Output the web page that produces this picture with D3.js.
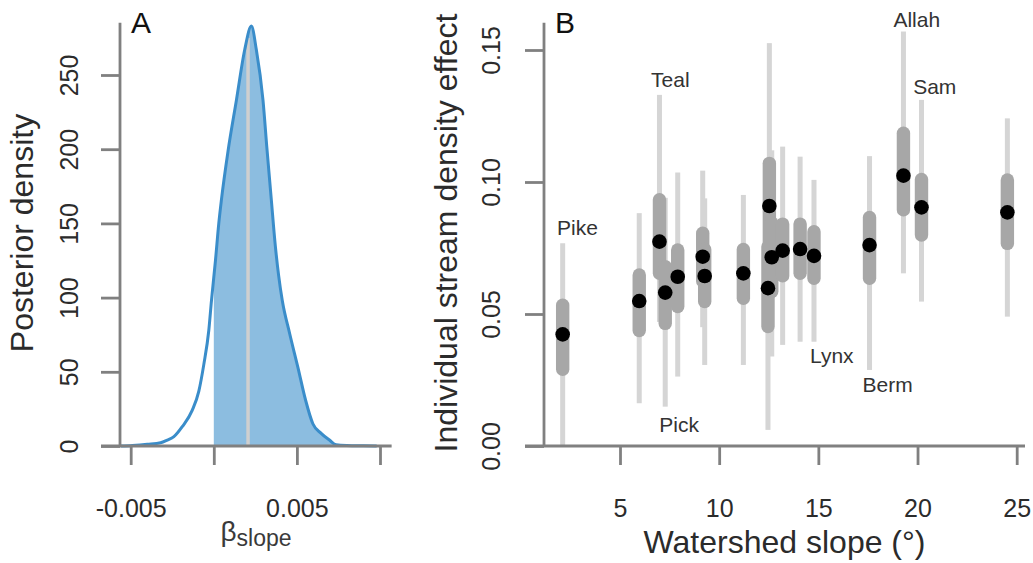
<!DOCTYPE html>
<html><head><meta charset="utf-8">
<script src="https://cdn.jsdelivr.net/npm/d3@7"></script>
<style>
body{margin:0;background:#fff}
svg{display:block}
text{font-family:"Liberation Sans",Arial,Helvetica,sans-serif}
</style>
</head><body>
<svg id="c" width="1033" height="563"></svg>
<script>
// ---------- Panel A: posterior density of beta_slope ----------
const betaSlope = [-0.0056,-0.0049,-0.0040,-0.0032,-0.0028,-0.0024,-0.0019,-0.0013,-0.0009,-0.0006,-0.0003,-0.00014,0.0001,0.0003,0.00046,0.00086,0.00136,0.00186,0.00226,0.00256,0.00296,0.0032,0.00346,0.0037,0.0039,0.00412,0.00456,0.00506,0.00552,0.00596,0.00646,0.00696,0.00736,0.0080,0.0090,0.0098];
const posteriorDensity = [0,0.4,1.2,2.2,4,6.3,13,24,37,55,78,98,125,150,166,199,233,267,283,267,233,200,166,135,115,98,76,53,31,15,8.5,4,0.8,0.3,0.1,0];
const betaMedian = 0.00206;
const betaTicks = [-0.005, 0, 0.005, 0.010];
const betaTickLabels = ["-0.005", "", "0.005", ""];
const densityTicks = [0, 50, 100, 150, 200, 250];

// ---------- Panel B: individual stream effects ----------
const streamNames  = ["Pike","","Teal","Pick","","","","","","","","","","Lynx","Berm","Allah","Sam",""];
const streamSlope  = [2.11, 5.97, 6.99, 7.28, 7.91, 9.17, 9.27, 11.22, 12.46, 12.53, 12.65, 13.20, 14.08, 14.78, 17.58, 19.29, 20.20, 24.53];
const effectMedian = [0.0423,0.0549,0.0774,0.0581,0.0641,0.0717,0.0644,0.0654,0.0598,0.0909,0.0715,0.0740,0.0746,0.0720,0.0761,0.1024,0.0904,0.0885];
const effectLo50   = [0.0265,0.0412,0.0629,0.0439,0.0503,0.0600,0.0522,0.0534,0.0427,0.0720,0.0560,0.0619,0.0629,0.0610,0.0610,0.0869,0.0774,0.0742];
const effectHi50   = [0.0559,0.0673,0.0958,0.0705,0.0768,0.0831,0.0770,0.0770,0.0780,0.1096,0.0870,0.0866,0.0866,0.0837,0.0891,0.1210,0.1035,0.1033];
const effectLo95   = [0.0000,0.0162,0.0470,0.0149,0.0263,0.0450,0.0307,0.0307,0.0061,0.0450,0.0339,0.0383,0.0395,0.0395,0.0288,0.0654,0.0547,0.0490];
const effectHi95   = [0.0768,0.0882,0.1330,0.0940,0.1036,0.1043,0.0938,0.0951,0.1050,0.1526,0.1120,0.1134,0.1096,0.1008,0.1098,0.1570,0.1311,0.1241];
const labelNames  = ["Pike","Teal","Pick","Lynx","Berm","Allah","Sam"];
const labelSlope  = [2.86, 7.54, 7.98, 15.68, 18.49, 19.96, 20.87];
const labelEffect = [0.0799, 0.1358, 0.0053, 0.0314, 0.0205, 0.1587, 0.1333];
const slopeTicks  = [5, 10, 15, 20, 25];
const effectTicks = [0.00, 0.05, 0.10, 0.15];

// ---------- layout ----------
const svg = d3.select("#c");
const AX = "#808080", AXW = 2.8, TICK = 19;
const TXT = "#2b2b2b";
const baseY = 446;

function styleAxis(g){
  g.select(".domain").remove();
  g.selectAll(".tick line").attr("stroke", AX).attr("stroke-width", AXW);
  g.selectAll(".tick text").attr("fill", TXT).attr("font-size", 25);
}

// ===== Panel A =====
const xA = d3.scaleLinear().domain([-0.005, 0.010]).range([130.7, 380]);
const yA = d3.scaleLinear().domain([0, 250]).range([baseY, 75]);
const axA = 120, topA = 22.7;

const gA = svg.append("g");
svg.append("defs").append("clipPath").attr("id","posclip")
  .append("rect").attr("x", xA(0)).attr("y", 0).attr("width", 400).attr("height", baseY);

const dens = betaSlope.map((b,i)=>({b, d: posteriorDensity[i]}));
const area = d3.area().x(p=>xA(p.b)).y0(yA(0)).y1(p=>yA(p.d)).curve(d3.curveMonotoneX);
const line = d3.line().x(p=>xA(p.b)).y(p=>yA(p.d)).curve(d3.curveMonotoneX);

gA.append("path").datum(dens).attr("d", area).attr("fill", "#8cbde0").attr("clip-path","url(#posclip)");
// median line
const medD = d3.scaleLinear().domain(betaSlope).range(posteriorDensity)(betaMedian);
gA.append("line").attr("x1", xA(betaMedian)).attr("x2", xA(betaMedian))
  .attr("y1", yA(0)).attr("y2", yA(medD)).attr("stroke", "#cfcfcf").attr("stroke-width", 3.5);
gA.append("path").datum(dens).attr("d", line).attr("fill","none").attr("stroke","#3a8dca").attr("stroke-width",3)
  .attr("stroke-linejoin","round");

// axes lines
gA.append("line").attr("x1", axA - TICK).attr("x2", xA(0.0107)).attr("y1", baseY).attr("y2", baseY)
  .attr("stroke", AX).attr("stroke-width", AXW);
gA.append("line").attr("x1", axA).attr("x2", axA).attr("y1", topA).attr("y2", baseY)
  .attr("stroke", AX).attr("stroke-width", AXW);

const xAxisA = gA.append("g").attr("transform", `translate(0,${baseY})`)
  .call(d3.axisBottom(xA).tickValues(betaTicks).tickSize(TICK).tickFormat((d,i)=>betaTickLabels[i]));
styleAxis(xAxisA);
xAxisA.selectAll(".tick text").attr("y", 70.5).attr("dy", 0);

const yAxisA = gA.append("g").attr("transform", `translate(${axA},0)`)
  .call(d3.axisLeft(yA).tickValues(densityTicks).tickSize(TICK).tickFormat(d3.format("d")));
styleAxis(yAxisA);
yAxisA.selectAll(".tick text").attr("x", 0).attr("dy", 0).attr("text-anchor","middle")
  .attr("transform", "translate(-42,0) rotate(-90)");

gA.append("text").attr("transform", `translate(33,233) rotate(-90)`).attr("text-anchor","middle")
  .attr("font-size", 32).attr("fill", TXT).text("Posterior density");
const bl = gA.append("text").attr("x", 256).attr("y", 541).attr("text-anchor","middle").attr("fill", "#3a3a3a");
bl.append("tspan").attr("font-size", 28).text("β");
bl.append("tspan").attr("font-size", 23).attr("dy", 5).text("slope");
gA.append("text").attr("x", 131).attr("y", 33).attr("font-size", 30).attr("fill","#111").text("A");

// ===== Panel B =====
const xB = d3.scaleLinear().domain([5, 25]).range([620, 1016.7]);
const yB = d3.scaleLinear().domain([0, 0.15]).range([baseY, 50]);
const axB = 544;
const gB = svg.append("g");

const idx = d3.range(streamSlope.length);
// 95% intervals
gB.selectAll("rect.thin").data(idx).join("rect").attr("class","thin")
  .attr("x", i=>xB(streamSlope[i]) - 2.5).attr("width", 5)
  .attr("y", i=>yB(effectHi95[i])).attr("height", i=>yB(effectLo95[i]) - yB(effectHi95[i]))
  .attr("fill", "#d5d5d5");
// 50% intervals
gB.selectAll("rect.thick").data(idx).join("rect").attr("class","thick")
  .attr("x", i=>xB(streamSlope[i]) - 6.7).attr("width", 13.4).attr("rx", 6.7)
  .attr("y", i=>yB(effectHi50[i])).attr("height", i=>yB(effectLo50[i]) - yB(effectHi50[i]))
  .attr("fill", "#a7a7a7");
// medians
gB.selectAll("circle").data(idx).join("circle")
  .attr("cx", i=>xB(streamSlope[i])).attr("cy", i=>yB(effectMedian[i])).attr("r", 7.3).attr("fill", "#000");

// labels
gB.selectAll("text.lab").data(labelNames).join("text").attr("class","lab")
  .attr("x", (d,i)=>xB(labelSlope[i])).attr("y", (d,i)=>yB(labelEffect[i]))
  .attr("text-anchor","middle").attr("font-size", 21).attr("fill", "#333").text(d=>d);

// axes
gB.append("line").attr("x1", axB - TICK).attr("x2", 1025).attr("y1", baseY).attr("y2", baseY)
  .attr("stroke", AX).attr("stroke-width", AXW);
gB.append("line").attr("x1", axB).attr("x2", axB).attr("y1", topA).attr("y2", baseY)
  .attr("stroke", AX).attr("stroke-width", AXW);

const xAxisB = gB.append("g").attr("transform", `translate(0,${baseY})`)
  .call(d3.axisBottom(xB).tickValues(slopeTicks).tickSize(TICK).tickFormat(d3.format("d")));
styleAxis(xAxisB);
xAxisB.selectAll(".tick text").attr("y", 70.5).attr("dy", 0);

const yAxisB = gB.append("g").attr("transform", `translate(${axB},0)`)
  .call(d3.axisLeft(yB).tickValues(effectTicks).tickSize(TICK).tickFormat(d3.format(".2f")));
styleAxis(yAxisB);
yAxisB.selectAll(".tick text").attr("x", 0).attr("dy", 0).attr("text-anchor","middle")
  .attr("transform", "translate(-44,0) rotate(-90)");

gB.append("text").attr("transform", `translate(457,233) rotate(-90)`).attr("text-anchor","middle")
  .attr("font-size", 32).attr("fill", TXT).text("Individual stream density effect");
gB.append("text").attr("x", 784.5).attr("y", 553).attr("text-anchor","middle")
  .attr("font-size", 32).attr("fill", TXT).text("Watershed slope (°)");
gB.append("text").attr("x", 555).attr("y", 33).attr("font-size", 30).attr("fill","#111").text("B");
</script>
</body></html>
